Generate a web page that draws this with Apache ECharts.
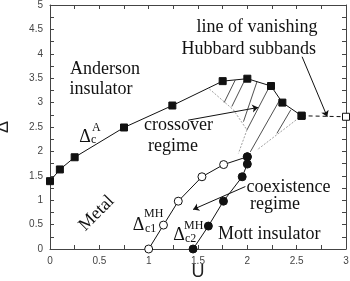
<!DOCTYPE html>
<html>
<head>
<meta charset="utf-8">
<script src="https://cdn.jsdelivr.net/npm/echarts@6/dist/echarts.min.js"></script>
<style>html,body{margin:0;padding:0;background:#fff}#c{width:350px;height:281px}</style>
</head>
<body>
<div id="c"></div>
<script>
// Anderson transition line Δc^A (filled squares)
var uA = [0, 0.1, 0.25, 0.75, 1.24, 1.75, 2.0, 2.24, 2.355, 2.55];
var dA = [1.39, 1.63, 1.88, 2.49, 2.94, 3.44, 3.49, 3.34, 3.0, 2.73];
// line of vanishing Hubbard subbands (dashed, open square at end)
var uH = [2.55, 3.0];
var dH = [2.73, 2.71];
// Δc1^MH (open circles)
var uC1 = [1.0, 1.15, 1.3, 1.54, 1.76, 2.0];
var dC1 = [0, 0.49, 0.98, 1.48, 1.73, 1.89];
// Δc2^MH (filled circles)
var uC2 = [1.45, 1.605, 1.758, 1.948, 2.0, 2.0];
var dC2 = [0, 0.47, 0.98, 1.48, 1.74, 1.89];
// crossover region: dotted boundaries and hatch segments [[u1,d1],[u2,d2]]
var boundLeft = [[1.615, 3.28], [1.86, 2.85], [1.996, 2.44], [1.91, 1.96]];
var boundRight = [[2.55, 2.73], [2.098, 2.03]];
var hatch = [
  [[1.765, 3.0], [1.877, 3.46]],
  [[1.843, 2.92], [1.979, 3.48]],
  [[1.961, 2.61], [2.098, 3.43]],
  [[1.996, 2.44], [2.23, 3.35]],
  [[2.03, 1.99], [2.33, 3.06]],
  [[2.30, 2.37], [2.44, 2.85]]
];
// annotation arrows (from, to)
var arrows = [
  [[1.40, 2.64], [2.11, 2.90]],
  [[1.98, 1.28], [1.45, 0.81]],
  [[2.555, 3.94], [2.81, 2.71]]
];
var xTicks = {min: 0, max: 3, interval: 0.25};
var yTicks = {min: 0, max: 5, interval: 0.25};

function zip(a, b) { return a.map(function (v, i) { return [v, b[i]]; }); }
function fmt(v) { return Math.abs(v * 2 - Math.round(v * 2)) < 1e-6 ? String(v) : ''; }

var chart = echarts.init(document.getElementById('c'), null, {renderer: 'canvas'});
var axisLine = {show: true, onZero: false, lineStyle: {color: '#444', width: 1}};
var tick = {show: true, inside: true, length: 4, lineStyle: {color: '#444', width: 1}};
var serif = '"Liberation Serif", "DejaVu Serif", serif';

function txt(s, x, y, size, extra) {
  var e = {type: 'text', x: x, y: y, z: 100, silent: true,
    style: {text: s, font: size + 'px ' + serif, fill: '#111',
      textAlign: 'left', textVerticalAlign: 'middle', align: 'left', verticalAlign: 'middle'}};
  if (extra) { for (var k in extra) e[k] = extra[k]; }
  return e;
}

chart.setOption({
  animation: false,
  backgroundColor: '#fff',
  grid: {left: 50, right: 4, top: 5, bottom: 32, containLabel: false, outerBoundsMode: 'none'},
  xAxis: [
    {type: 'value', min: xTicks.min, max: xTicks.max, interval: xTicks.interval,
      name: 'U', nameLocation: 'middle', nameGap: 14, nameMoveOverlap: false,
      nameTextStyle: {fontFamily: '"Liberation Sans", Arial, sans-serif', fontSize: 18, color: '#222'},
      axisLine: axisLine, axisTick: tick, splitLine: {show: false},
      axisLabel: {formatter: fmt, fontFamily: '"Liberation Sans", Arial, sans-serif', fontSize: 10, color: '#444', margin: 7}},
    {type: 'value', position: 'top', min: xTicks.min, max: xTicks.max, interval: xTicks.interval,
      axisLine: axisLine, axisTick: tick, splitLine: {show: false}, axisLabel: {show: false}}
  ],
  yAxis: [
    {type: 'value', min: yTicks.min, max: yTicks.max, interval: yTicks.interval,
      name: 'Δ', nameLocation: 'middle', nameGap: 38, nameMoveOverlap: false,
      nameTextStyle: {fontFamily: '"Liberation Sans", Arial, sans-serif', fontSize: 18, color: '#222'},
      axisLine: axisLine, axisTick: tick, splitLine: {show: false},
      axisLabel: {formatter: fmt, fontFamily: '"Liberation Sans", Arial, sans-serif', fontSize: 10, color: '#444', margin: 7}},
    {type: 'value', position: 'right', min: yTicks.min, max: yTicks.max, interval: yTicks.interval,
      axisLine: axisLine, axisTick: tick, splitLine: {show: false}, axisLabel: {show: false}}
  ],
  series: [
    {type: 'lines', coordinateSystem: 'cartesian2d', z: 2, silent: true,
      lineStyle: {color: '#888', width: 0.8, type: [2, 1.5], opacity: 1},
      data: [{coords: boundLeft}, {coords: boundRight}], polyline: true},
    {type: 'lines', coordinateSystem: 'cartesian2d', z: 2, silent: true,
      lineStyle: {color: '#222', width: 0.8, opacity: 1},
      data: hatch.map(function (s) { return {coords: s}; })},
    {type: 'lines', coordinateSystem: 'cartesian2d', z: 3, silent: true,
      symbol: ['none', 'arrow'], symbolSize: 6,
      lineStyle: {color: '#111', width: 1, opacity: 1},
      data: arrows.map(function (s) { return {coords: s}; })},
    {type: 'line', data: zip(uH, dH), z: 4, clip: false,
      symbol: 'rect', symbolSize: 7, showAllSymbol: true,
      lineStyle: {color: '#111', width: 1, type: [4, 3]},
      itemStyle: {color: '#fff', borderColor: '#111', borderWidth: 1}},
    {type: 'line', data: zip(uA, dA), z: 5, clip: false,
      symbol: 'rect', symbolSize: 7, showAllSymbol: true,
      lineStyle: {color: '#111', width: 1},
      itemStyle: {color: '#111', borderColor: '#111'}},
    {type: 'line', data: zip(uC1, dC1), z: 5, clip: false,
      symbol: 'circle', symbolSize: 8, showAllSymbol: true,
      lineStyle: {color: '#111', width: 1},
      itemStyle: {color: '#fff', borderColor: '#111', borderWidth: 1}},
    {type: 'line', data: zip(uC2, dC2), z: 6, clip: false,
      symbol: 'circle', symbolSize: 8, showAllSymbol: true,
      lineStyle: {color: '#111', width: 1},
      itemStyle: {color: '#111', borderColor: '#111'}}
  ],
  graphic: [
    txt('Anderson', 70, 69, 18),
    txt('insulator', 69.5, 89, 18),
    txt('crossover', 144, 125, 18),
    txt('regime', 148, 146, 18),
    txt('coexistence', 246.5, 187, 18),
    txt('regime', 250, 204, 18),
    txt('Mott insulator', 218, 234, 18),
    txt('line of vanishing', 196.5, 27, 18),
    txt('Hubbard subbands', 181.5, 49, 18),
    txt('Δ', 79.3, 137, 18),
    txt('A', 92, 127.5, 12),
    txt('c', 91, 139.5, 12),
    txt('Δ', 132.7, 225.7, 18),
    txt('MH', 144, 214.3, 12),
    txt('c1', 145, 229.3, 12),
    txt('Δ', 173.3, 235.7, 18),
    txt('MH', 184, 226, 12),
    txt('c2', 185, 239.3, 12),
    {type: 'text', x: 96.7, y: 213.3, rotation: Math.PI / 4, z: 100, silent: true,
      style: {text: 'Metal', font: '18px ' + serif, fill: '#111',
        textAlign: 'center', textVerticalAlign: 'middle', align: 'center', verticalAlign: 'middle'}}
  ]
});
</script>
</body>
</html>
